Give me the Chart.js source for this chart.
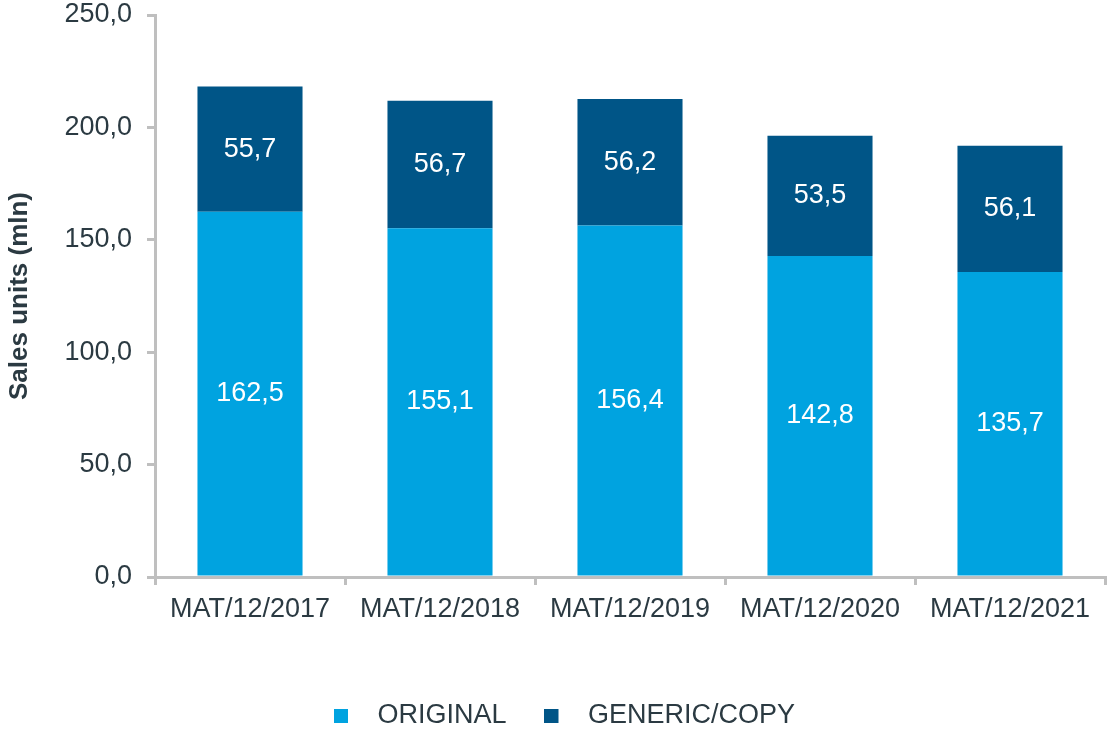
<!DOCTYPE html>
<html>
<head>
<meta charset="utf-8">
<script src="https://cdn.jsdelivr.net/npm/chart.js@4.4.1/dist/chart.umd.min.js"></script>
<style>
  html, body { margin: 0; padding: 0; background: #fff; }
  #wrap { width: 1107px; height: 729px; position: relative; }
</style>
</head>
<body>
<div id="wrap"><canvas id="salesChart"></canvas></div>
<script>
const categories = ["MAT/12/2017", "MAT/12/2018", "MAT/12/2019", "MAT/12/2020", "MAT/12/2021"];
const originalUnits = [162.5, 155.1, 156.4, 142.8, 135.7];
const genericUnits = [55.7, 56.7, 56.2, 53.5, 56.1];
const seriesNames = ["ORIGINAL", "GENERIC/COPY"];
const yTicks = [0, 50, 100, 150, 200, 250];

const lightBlue = "#00A3E0";
const darkBlue = "#005587";
const textColor = "#2B3A42";
const axisGray = "#BFBFBF";

function fmt(v) {
    return v.toFixed(1).replace(".", ",");
}

// legend marker: small square on the left of a wider transparent box
function makeMarker(color) {
    const c = document.createElement("canvas");
    c.width = 30;
    c.height = 14;
    const g = c.getContext("2d");
    g.fillStyle = color;
    g.fillRect(0, 0, 14, 14);
    return c;
}
const markers = [makeMarker(lightBlue), makeMarker(darkBlue)];

const segmentLabels = {
    id: "segmentLabels",
    afterDatasetsDraw(chart) {
        const ctx = chart.ctx;
        ctx.save();
        ctx.fillStyle = "#fff";
        ctx.font = "27px 'Liberation Sans', Arial, sans-serif";
        ctx.textAlign = "center";
        ctx.textBaseline = "middle";
        chart.data.datasets.forEach((ds, i) => {
            chart.getDatasetMeta(i).data.forEach((bar, j) => {
                const p = bar.getProps(["x", "y", "base"], true);
                ctx.fillText(fmt(ds.data[j]), p.x, (p.y + p.base) / 2);
            });
        });
        ctx.restore();
    }
};

Chart.defaults.font.family = "'Liberation Sans', Arial, sans-serif";
Chart.defaults.color = textColor;

const ctx = document.getElementById("salesChart").getContext("2d");
new Chart(ctx, {
    type: "bar",
    data: {
        labels: categories,
        datasets: [{
            label: seriesNames[0],
            data: originalUnits,
            backgroundColor: lightBlue,
            barPercentage: 0.553,
            categoryPercentage: 1
        }, {
            label: seriesNames[1],
            data: genericUnits,
            backgroundColor: darkBlue,
            barPercentage: 0.553,
            categoryPercentage: 1
        }]
    },
    options: {
        responsive: true,
        maintainAspectRatio: false,
        animation: false,
        layout: { padding: { top: 15, right: 2, bottom: 0, left: 24 } },
        plugins: {
            tooltip: { enabled: false },
            legend: {
                position: "bottom",
                maxHeight: 65,
                labels: {
                    usePointStyle: true,
                    pointStyleWidth: 30,
                    boxHeight: 14,
                    padding: 38,
                    color: textColor,
                    font: { size: 27 },
                    generateLabels(chart) {
                        return Chart.defaults.plugins.legend.labels.generateLabels(chart)
                            .map((l, i) => ({ ...l, pointStyle: markers[i] }));
                    }
                }
            }
        },
        scales: {
            x: {
                stacked: true,
                grid: {
                    offset: true,
                    drawOnChartArea: false,
                    tickLength: 8,
                    color: axisGray,
                    lineWidth: 3
                },
                border: { color: axisGray, width: 3 },
                ticks: { font: { size: 27 }, color: textColor, padding: 8, maxRotation: 0 },
                afterFit(scale) {
                    scale.height = 87;
                    scale.paddingLeft = 0;
                    scale.paddingRight = 0;
                }
            },
            y: {
                stacked: true,
                min: 0,
                max: 250,
                afterBuildTicks(scale) { scale.ticks = yTicks.map(v => ({ value: v })); },
                grid: {
                    drawOnChartArea: false,
                    tickLength: 8,
                    color: axisGray,
                    lineWidth: 3
                },
                border: { color: axisGray, width: 3 },
                ticks: {
                    font: { size: 27 },
                    color: textColor,
                    padding: 15,
                    callback: v => fmt(v)
                },
                title: {
                    display: true,
                    text: "Sales units (mln)",
                    color: textColor,
                    font: { size: 26, weight: "bold" },
                    padding: { top: -20, bottom: 0 }
                },
                afterFit(scale) {
                    scale.width = 131;
                    scale.paddingTop = 0;
                    scale.paddingBottom = 0;
                }
            }
        }
    },
    plugins: [segmentLabels]
});
</script>
</body>
</html>
